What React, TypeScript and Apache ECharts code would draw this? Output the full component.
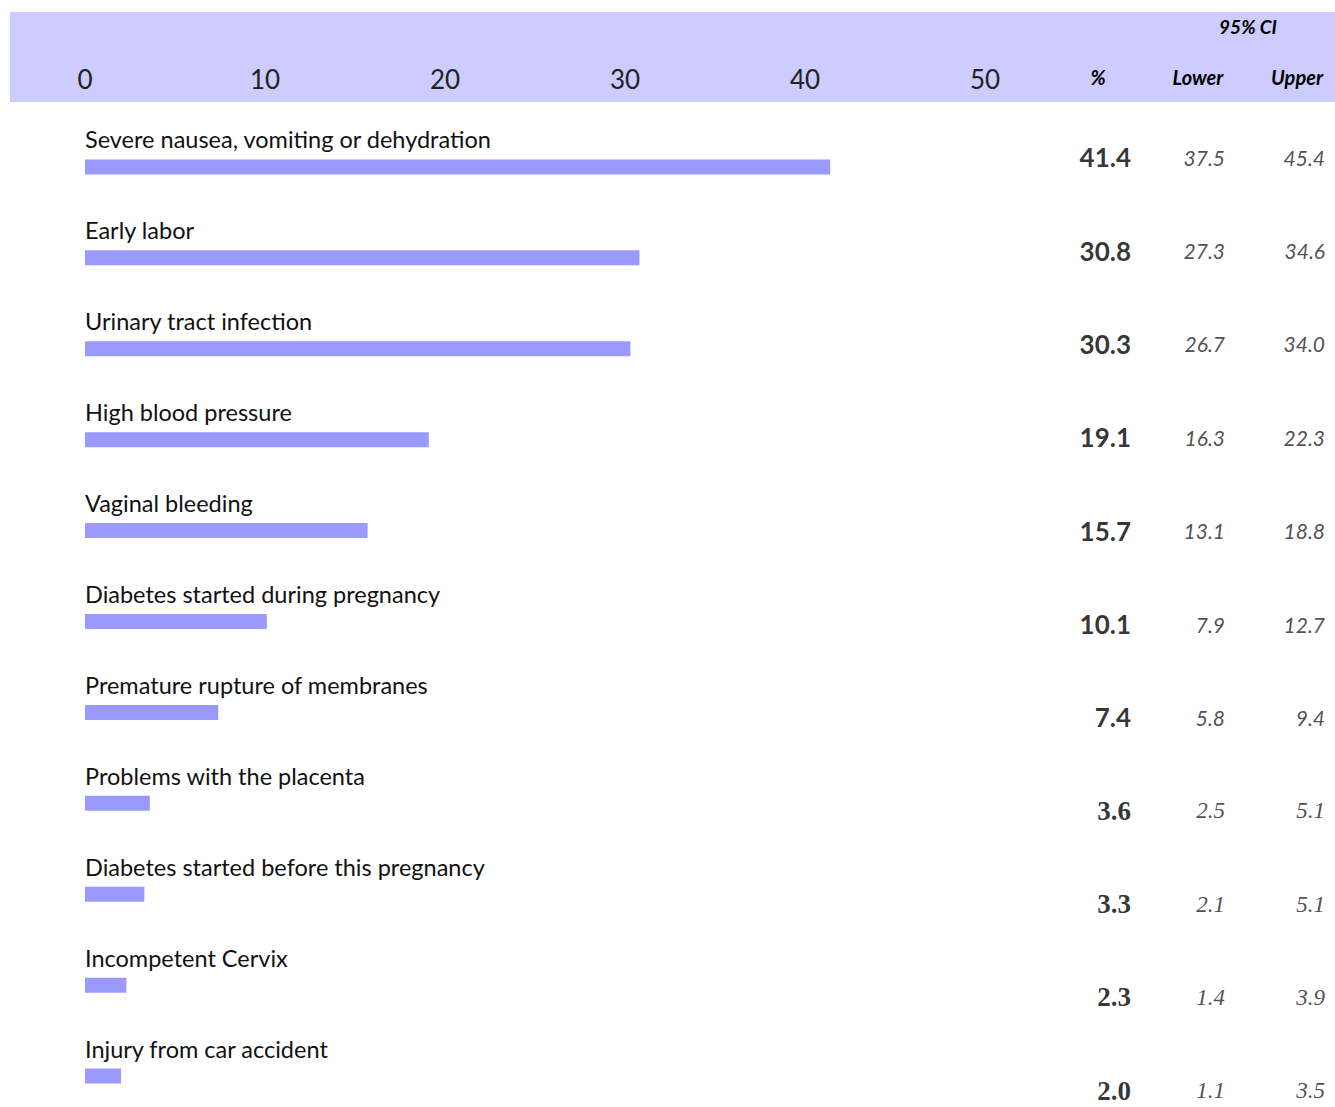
import React, { useEffect, useRef } from "react";
import * as echarts from "echarts";

const categories = [
  "Severe nausea, vomiting or dehydration",
  "Early labor",
  "Urinary tract infection",
  "High blood pressure",
  "Vaginal bleeding",
  "Diabetes started during pregnancy",
  "Premature rupture of membranes",
  "Problems with the placenta",
  "Diabetes started before this pregnancy",
  "Incompetent Cervix",
  "Injury from car accident",
];
const percent = [41.4, 30.8, 30.3, 19.1, 15.7, 10.1, 7.4, 3.6, 3.3, 2.3, 2.0];
const lower = [37.5, 27.3, 26.7, 16.3, 13.1, 7.9, 5.8, 2.5, 2.1, 1.4, 1.1];
const upper = [45.4, 34.6, 34.0, 22.3, 18.8, 12.7, 9.4, 5.1, 5.1, 3.9, 3.5];
const axisTicks = [0, 10, 20, 30, 40, 50];
const columnHeaders = ["%", "Lower", "Upper"];
const ciHeader = "95% CI";

const SANS = "Lato, 'Open Sans', sans-serif";
const SERIF = "'Liberation Serif', 'DejaVu Serif', serif";
const colRight = [1131, 1225, 1325];
const colCenter = [1098, 1198, 1297];

export default function App() {
  const ref = useRef<HTMLDivElement>(null);
  useEffect(() => {
    document.body.style.margin = "0";
    const chart = echarts.init(ref.current!, undefined, { renderer: "svg" });
    const rows = categories.map((_, i) => String(i));
    const isSans = (i: number) => i < 7;
    const colSeries = [percent, lower, upper].map((arr, c) => ({
      type: "scatter",
      xAxisIndex: 1,
      yAxisIndex: 1,
      symbolSize: 0,
      silent: true,
      data: arr.map((v, i) => ({
        value: [colRight[c], rows[i]],
        label: {
          show: true,
          position: "inside",
          align: "right",
          verticalAlign: "middle",
          formatter: v.toFixed(1),
          fontFamily: isSans(i) ? SANS : SERIF,
          fontSize: c === 0 ? (isSans(i) ? 26 : 27) : isSans(i) ? 21 : 23,
          fontWeight: c === 0 ? "bold" : "normal",
          fontStyle: c === 0 ? "normal" : "italic",
          color: c === 0 ? "#000" : "#222",
        },
      })),
    }));
    chart.setOption({
      animation: false,
      backgroundColor: "#fff",
      graphic: [
        { type: "rect", z: -10, shape: { x: 10, y: 12, width: 1325, height: 90 }, style: { fill: "#ccccff" } },
        ...columnHeaders.map((t, c) => ({
          type: "text",
          z: 10,
          x: colCenter[c],
          y: 77,
          style: {
            text: t,
            align: "center",
            verticalAlign: "middle",
            font: "italic bold 20px " + SANS,
            fill: "#000",
          },
        })),
        {
          type: "text",
          z: 10,
          x: 1248,
          y: 26,
          style: { text: ciHeader, align: "center", verticalAlign: "middle", font: "italic bold 19px " + SANS, fill: "#000" },
        },
      ],
      grid: [
        { left: 85, width: 900, top: 121.5, height: 1000 },
        { left: 0, width: 1335, top: 110.5, height: 1027 },
      ],
      xAxis: [
        {
          type: "value",
          gridIndex: 0,
          position: "top",
          min: axisTicks[0],
          max: axisTicks[axisTicks.length - 1],
          interval: 10,
          axisLine: { show: false },
          axisTick: { show: false },
          splitLine: { show: false },
          axisLabel: { margin: 30, fontSize: 26, fontFamily: SANS, color: "#222" },
        },
        { type: "value", gridIndex: 1, min: 0, max: 1335, show: false },
      ],
      yAxis: [
        { type: "category", gridIndex: 0, data: rows, inverse: true, show: false },
        { type: "category", gridIndex: 1, data: rows, inverse: true, show: false },
      ],
      series: [
        {
          type: "bar",
          xAxisIndex: 0,
          yAxisIndex: 0,
          barWidth: 15,
          itemStyle: { color: "#9999ff" },
          silent: true,
          data: percent.map((v, i) => ({
            value: v,
            label: {
              show: true,
              position: [0, -20],
              formatter: categories[i],
              fontFamily: SANS,
              fontSize: 23.5,
              color: "#111",
              align: "left",
              verticalAlign: "middle",
            },
          })),
        },
        ...colSeries,
      ],
    });
    return () => chart.dispose();
  }, []);
  return (
    <div style={{ width: 1335, height: 1107, overflow: "hidden" }}>
      <div ref={ref} style={{ width: 1335, height: 1200 }} />
    </div>
  );
}
